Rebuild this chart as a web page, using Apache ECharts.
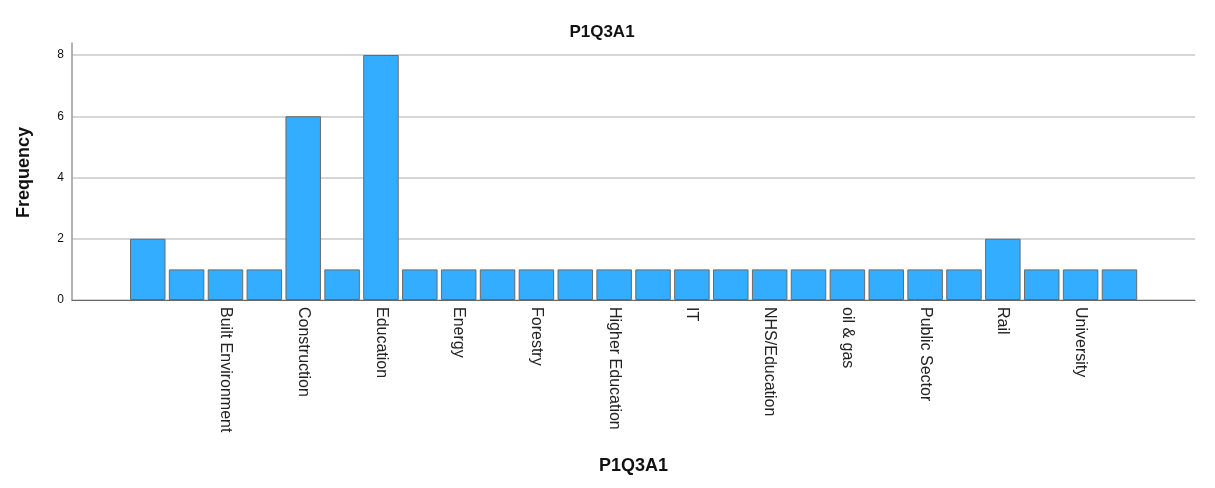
<!DOCTYPE html>
<html>
<head>
<meta charset="utf-8">
<script src="https://cdn.jsdelivr.net/npm/echarts@6/dist/echarts.min.js"></script>
<style>html,body{margin:0;padding:0;background:#fff}#c{width:1215px;height:488px}</style>
</head>
<body>
<div id="c"></div>
<script>
const categories = ["", "Architecture", "Built Environment", "Civil Engineering", "Construction", "Defence",
  "Education", "Education/Health", "Energy", "Engineering", "Forestry", "Health", "Higher Education",
  "Housing", "IT", "Manufacturing", "NHS/Education", "Nuclear", "oil & gas", "Property",
  "Public Sector", "Publishing", "Rail", "Retail", "University", "Utilities"];
const frequency = [2, 1, 1, 1, 6, 1, 8, 1, 1, 1, 1, 1, 1, 1, 1, 1, 1, 1, 1, 1, 1, 1, 2, 1, 1, 1];
const yTicks = [0, 2, 4, 6, 8];
const titleText = "P1Q3A1";
const xName = "P1Q3A1";
const yName = "Frequency";

const font = "'Liberation Sans', Arial, sans-serif";
const chart = echarts.init(document.getElementById('c'), null, {renderer: 'canvas'});
chart.setOption({
  animation: false,
  backgroundColor: '#fff',
  title: {text: titleText, left: 597, textAlign: 'center', top: 19,
    textStyle: {fontFamily: font, fontSize: 17, fontWeight: 'bold', color: '#111'}},
  graphic: [
    {type: 'text', left: 15, top: 127, style: {text: yName, font: "bold 18px 'Liberation Sans', Arial, sans-serif", fill: '#111'},
     rotation: Math.PI / 2}
  ],
  grid: [
    {left: 72, right: 20, top: 43, bottom: 188},
    {left: 72, right: 20, top: 55, bottom: 188},
    {left: 128.3, width: 1010.6, top: 55, bottom: 188}
  ],
  xAxis: [
    {gridIndex: 0, type: 'value', min: 0, max: 1, axisLine: {show: true, onZero: false, lineStyle: {color: '#666', width: 1}},
     axisTick: {show: false}, axisLabel: {show: false}, splitLine: {show: false},
     name: xName, nameLocation: 'middle', nameGap: 157,
     nameTextStyle: {fontFamily: font, fontSize: 18, fontWeight: 'bold', color: '#111'}},
    {gridIndex: 1, type: 'value', min: 0, max: 1, show: false},
    {gridIndex: 2, type: 'category', data: categories, boundaryGap: true,
     axisLine: {show: false}, axisTick: {show: false},
     axisLabel: {interval: 1, rotate: -90, margin: 7, fontFamily: font, fontSize: 16, color: '#222'}}
  ],
  yAxis: [
    {gridIndex: 0, type: 'value', min: 0, max: 1, axisLine: {show: true, lineStyle: {color: '#999', width: 1.5}},
     axisTick: {show: false}, axisLabel: {show: false}, splitLine: {show: false}},
    {gridIndex: 1, type: 'value', min: yTicks[0], max: yTicks[yTicks.length - 1], interval: 2,
     axisLine: {show: false}, axisTick: {show: false},
     axisLabel: {margin: 8, fontFamily: font, fontSize: 12, color: '#111'},
     splitLine: {show: true, lineStyle: {color: '#c8c8c8', width: 1.5}}},
    {gridIndex: 2, type: 'value', min: yTicks[0], max: yTicks[yTicks.length - 1], show: false}
  ],
  series: [{
    type: 'bar', xAxisIndex: 2, yAxisIndex: 2, data: frequency,
    barWidth: 35.5,
    itemStyle: {color: '#33adff', borderColor: '#6a6a6a', borderWidth: 1}
  }]
});
</script>
</body>
</html>
